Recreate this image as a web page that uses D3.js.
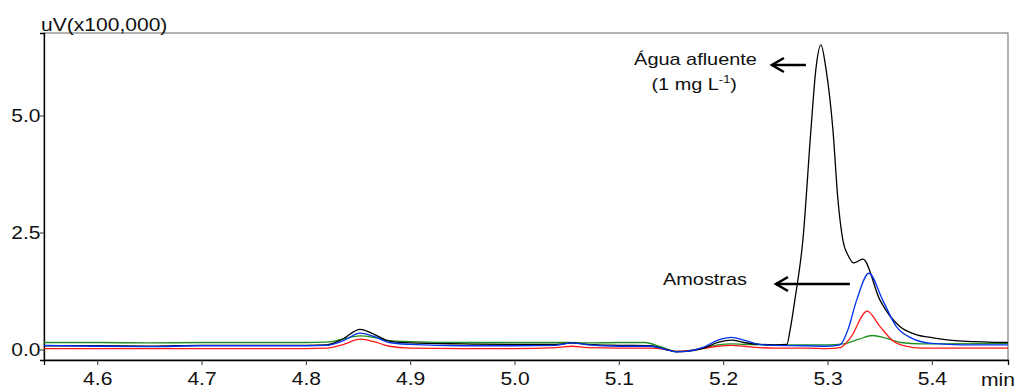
<!DOCTYPE html>
<html>
<head>
<meta charset="utf-8">
<script src="https://cdn.jsdelivr.net/npm/d3@7"></script>
<style>
  body { margin: 0; background: #fff; }
  svg { display: block; font-family: "Liberation Sans", Arial, sans-serif; }
</style>
</head>
<body>
<svg width="1016" height="392"></svg>
<script>
// retention time (min) and signal (uV x 100,000)
var tBlack = [4.549, 4.60, 4.65, 4.70, 4.75, 4.80, 4.82, 4.835, 4.852, 4.865, 4.88, 4.90, 4.95, 5.00, 5.04, 5.055, 5.07, 5.10, 5.13, 5.145, 5.155, 5.165, 5.18, 5.195, 5.208, 5.22, 5.235, 5.25, 5.2611, 5.264, 5.2687, 5.2764, 5.2841, 5.2889, 5.2937, 5.2985, 5.3052, 5.310, 5.3147, 5.320, 5.3253, 5.3339, 5.3502, 5.3693, 5.385, 5.401, 5.43, 5.473];
var vBlack = [0.08, 0.08, 0.07, 0.09, 0.09, 0.09, 0.10, 0.22, 0.43, 0.33, 0.18, 0.14, 0.12, 0.11, 0.11, 0.14, 0.11, 0.09, 0.08, 0.0, -0.05, -0.04, 0.02, 0.15, 0.20, 0.15, 0.11, 0.10, 0.11, 0.40, 1.06, 2.34, 4.69, 6.0, 6.51, 6.0, 4.69, 3.2, 2.34, 2.0, 1.85, 1.93, 1.06, 0.49, 0.32, 0.25, 0.18, 0.15];

var tBlue = [4.549, 4.60, 4.65, 4.70, 4.75, 4.80, 4.82, 4.835, 4.852, 4.865, 4.88, 4.90, 4.95, 5.00, 5.04, 5.055, 5.07, 5.10, 5.13, 5.145, 5.155, 5.165, 5.18, 5.195, 5.208, 5.22, 5.235, 5.25, 5.28, 5.30, 5.312, 5.3195, 5.328, 5.3396, 5.3528, 5.366, 5.38, 5.40, 5.43, 5.473];
var vBlue = [0.09, 0.07, 0.06, 0.08, 0.08, 0.08, 0.09, 0.18, 0.35, 0.28, 0.15, 0.11, 0.08, 0.08, 0.09, 0.14, 0.10, 0.07, 0.07, 0.0, -0.05, -0.04, 0.04, 0.20, 0.26, 0.20, 0.11, 0.09, 0.08, 0.07, 0.10, 0.42, 1.06, 1.63, 1.06, 0.49, 0.25, 0.13, 0.10, 0.10];

var tRed = [4.549, 4.60, 4.70, 4.80, 4.82, 4.835, 4.852, 4.865, 4.88, 4.90, 4.95, 5.00, 5.04, 5.055, 5.07, 5.10, 5.13, 5.145, 5.155, 5.165, 5.18, 5.195, 5.208, 5.22, 5.235, 5.25, 5.28, 5.30, 5.312, 5.322, 5.338, 5.35, 5.362, 5.375, 5.39, 5.473];
var vRed = [0.02, 0.02, 0.02, 0.02, 0.03, 0.10, 0.22, 0.17, 0.07, 0.03, 0.02, 0.02, 0.04, 0.07, 0.04, 0.03, 0.03, 0.0, -0.04, -0.03, 0.02, 0.07, 0.09, 0.07, 0.04, 0.03, 0.03, 0.02, 0.04, 0.25, 0.82, 0.50, 0.20, 0.07, 0.03, 0.03];

var tGreen = [4.549, 4.60, 4.65, 4.70, 4.75, 4.80, 4.82, 4.835, 4.852, 4.865, 4.88, 4.90, 4.95, 5.00, 5.05, 5.07, 5.10, 5.125, 5.14, 5.155, 5.165, 5.18, 5.195, 5.208, 5.22, 5.24, 5.28, 5.30, 5.315, 5.33, 5.343, 5.355, 5.37, 5.39, 5.473];
var vGreen = [0.15, 0.15, 0.14, 0.15, 0.15, 0.15, 0.16, 0.22, 0.29, 0.26, 0.19, 0.17, 0.15, 0.15, 0.15, 0.14, 0.15, 0.15, 0.06, -0.04, -0.03, 0.03, 0.10, 0.12, 0.11, 0.10, 0.10, 0.10, 0.12, 0.22, 0.30, 0.25, 0.15, 0.12, 0.13];

var xMajor = [4.6, 4.7, 4.8, 4.9, 5.0, 5.1, 5.2, 5.3, 5.4];
var yMajor = [0.0, 2.5, 5.0];

var W = 1016, H = 392;
var L = 44, R = 1008, T = 33, B = 360;
var SX = 1.17;   // text in the picture is a bit wider than the font

var svg = d3.select("svg");

var scX = d3.scaleLinear().domain([4.549, 5.473]).range([L, R]);
var scY = d3.scaleLinear().domain([-0.224, 6.763]).range([B, T]);

// frame
svg.append("rect")
    .attr("x", L).attr("y", T).attr("width", R - L).attr("height", B - T)
    .attr("fill", "none").attr("stroke", "#666").attr("stroke-width", 1);

// minor ticks
var xMinor = d3.range(4.56, 5.473, 0.02).filter(v => xMajor.every(m => Math.abs(m - v) > 1e-6));
var yMinor = d3.range(0, 6.76, 0.5).filter(v => yMajor.every(m => Math.abs(m - v) > 1e-6));

var gx = svg.append("g").attr("transform", "translate(0," + B + ")");
gx.call(d3.axisBottom(scX).tickValues(xMinor).tickSize(3).tickFormat(""));
gx.call(d3.axisBottom(scX).tickValues(xMajor).tickSize(5).tickPadding(7).tickFormat(d3.format(".1f")));

var gy = svg.append("g").attr("transform", "translate(" + L + ",0)");
gy.call(d3.axisLeft(scY).tickValues(yMinor).tickSize(3).tickFormat(""));
gy.call(d3.axisLeft(scY).tickValues(yMajor).tickSize(4).tickPadding(-1).tickFormat(d3.format(".1f")));

svg.selectAll(".domain").attr("stroke", "#000").attr("stroke-width", 1.3);
svg.selectAll(".tick line").attr("stroke", "#333");
svg.selectAll(".tick text")
    .attr("font-size", 18).attr("fill", "#111")
    .attr("font-family", "Liberation Sans, Arial, sans-serif")
    .attr("transform", "scale(" + SX + ",1)");

// chromatogram traces
function trace(ts, vs, color) {
    var pts = ts.map((t, i) => [t, vs[i]]);
    var lineMaker = d3.line()
        .x(d => scX(d[0]))
        .y(d => scY(d[1]))
        .curve(d3.curveMonotoneX);
    svg.append("path")
        .attr("fill", "none").attr("stroke", color)
        .attr("stroke-width", 1.3)
        .attr("d", lineMaker(pts));
}
trace(tGreen, vGreen, "#1f8f1f");
trace(tRed, vRed, "#ff1a1a");
trace(tBlack, vBlack, "#000");
trace(tBlue, vBlue, "#0033ee");

// text helper: stretched horizontally like the original
function label(x, y, anchor, size) {
    return svg.append("text")
        .attr("transform", "translate(" + x + "," + y + ") scale(" + SX + ",1)")
        .attr("text-anchor", anchor)
        .attr("font-size", size)
        .attr("fill", "#111");
}

label(41, 31, "start", 18).text("uV(x100,000)");
label(1015, 386, "end", 18).text("min");

// annotations
label(scX(5.2323), scY(6.08), "end", 17).text("Água afluente");
var t2 = label(scX(5.2132), scY(5.545), "end", 17);
t2.append("tspan").text("(1 mg L");
t2.append("tspan").attr("font-size", 11).attr("dy", -7).text("-1");
t2.append("tspan").attr("dy", 7).text(")");
label(scX(5.1423), scY(1.378), "start", 17).text("Amostras");

function arrow(t0, t1, v) {
    var x0 = scX(t0), x1 = scX(t1), y = scY(v);
    svg.append("path")
        .attr("fill", "none").attr("stroke", "#000").attr("stroke-width", 2.5)
        .attr("d", "M" + x0 + "," + y + "H" + x1);
    svg.append("path")
        .attr("fill", "none").attr("stroke", "#000").attr("stroke-width", 2.5)
        .attr("d", "M" + (x1 + 12) + "," + (y - 7) + "L" + x1 + "," + y + "L" + (x1 + 12) + "," + (y + 7));
}
arrow(5.2793, 5.2467, 6.08);
arrow(5.3214, 5.2506, 1.40);
</script>
</body>
</html>
